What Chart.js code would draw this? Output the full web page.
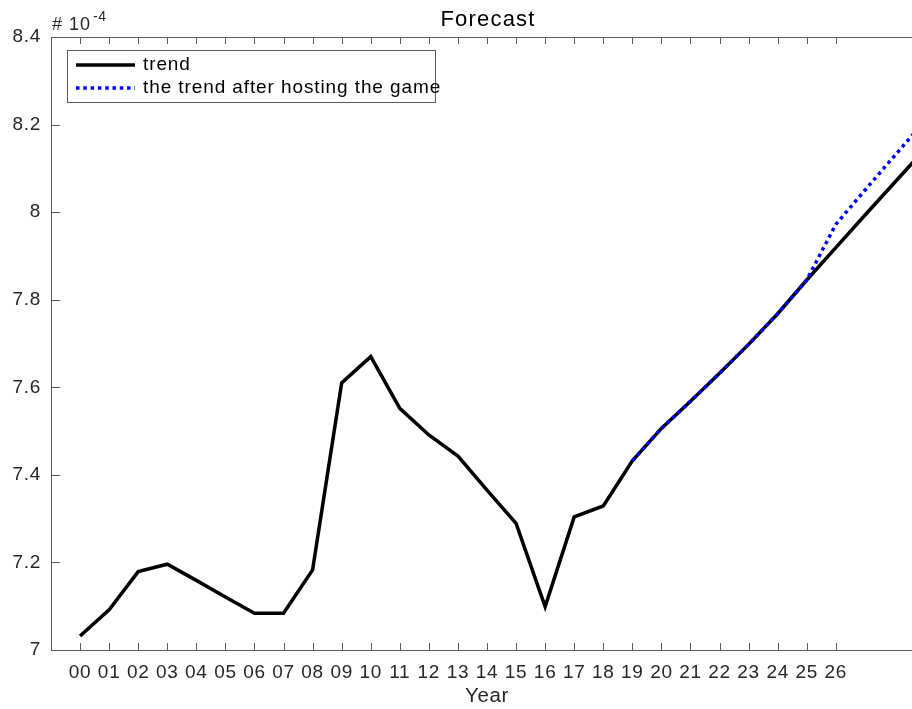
<!DOCTYPE html>
<html>
<head>
<meta charset="utf-8">
<title>Forecast</title>
<script src="https://cdn.jsdelivr.net/npm/chart.js@4/dist/chart.umd.min.js"></script>
<style>
  html, body { margin: 0; padding: 0; background: #fff; overflow: hidden; }
  #wrap { width: 912px; height: 709px; overflow: hidden; }
</style>
</head>
<body>
<div id="wrap"><canvas id="myChart" width="923" height="709"></canvas></div>
<script>
// years 2000..2029 as index
const years = [0, 1, 2, 3, 4, 5, 6, 7, 8, 9, 10, 11, 12, 13, 14, 15, 16, 17, 18, 19,
  20, 21, 22, 23, 24, 25, 26, 27, 28, 29];
// values in units of 1e-4
const trend = [7.032, 7.092, 7.179, 7.196, 7.159, 7.121, 7.084, 7.084, 7.183, 7.610,
  7.670, 7.552, 7.491, 7.443, 7.365, 7.289, 7.099, 7.304, 7.329, 7.432,
  7.506, 7.568, 7.632, 7.698, 7.768, 7.845, 7.919, 7.993, 8.066, 8.139];
const hosting = [null, null, null, null, null, null, null, null, null, null,
  null, null, null, null, null, null, null, null, null, 7.432,
  7.506, 7.568, 7.632, 7.698, 7.768, 7.845, 7.972, 8.050, 8.127, 8.204];
const lastTick = 26;
const yTicks = [7, 7.2, 7.4, 7.6, 7.8, 8, 8.2, 8.4];

const FONT = 'Arial, "Liberation Sans", sans-serif';
const AXIS = '#5a5a5a';
const TEXT = '#262626';

const toPoints = arr => years.map((x, i) => ({ x: x, y: arr[i] })).filter(p => p.y !== null);

// slightly wider letter spacing for all axis text
const spacing = {
  id: 'spacing',
  beforeInit(chart) { chart.ctx.letterSpacing = '0.7px'; },
  beforeDraw(chart) { chart.ctx.letterSpacing = '0.7px'; }
};

// matlab style inward ticks + top box edge
const boxTicks = {
  id: 'boxTicks',
  afterDraw(chart) {
    const { ctx, chartArea: { left, right, top, bottom }, scales: { x, y } } = chart;
    ctx.save();
    ctx.strokeStyle = AXIS;
    ctx.lineWidth = 1;
    ctx.beginPath();
    ctx.moveTo(left, top + 0.5);
    ctx.lineTo(right, top + 0.5);
    for (let i = 0; i <= lastTick; i++) {
      const px = Math.round(x.getPixelForValue(i)) + 0.5;
      ctx.moveTo(px, bottom);
      ctx.lineTo(px, bottom - 7);
      ctx.moveTo(px, top);
      ctx.lineTo(px, top + 7);
    }
    yTicks.forEach(v => {
      const py = Math.round(y.getPixelForValue(v)) + 0.5;
      ctx.moveTo(left, py);
      ctx.lineTo(left + 9, py);
    });
    ctx.stroke();
    ctx.restore();
  }
};

// title, exponent and legend box
const labels = {
  id: 'labels',
  afterDraw(chart) {
    const { ctx, chartArea: { left, right } } = chart;
    ctx.save();
    ctx.fillStyle = '#000';
    ctx.textBaseline = 'middle';
    ctx.textAlign = 'center';
    ctx.letterSpacing = '1.2px';
    ctx.font = '22px ' + FONT;
    ctx.fillText('Forecast', (left + right) / 2 + 1, 20);

    ctx.textAlign = 'left';
    ctx.fillStyle = TEXT;
    ctx.letterSpacing = '1px';
    ctx.font = '18px ' + FONT;
    ctx.fillText('# 10', 52, 25);
    ctx.letterSpacing = '0.5px';
    ctx.font = '14px ' + FONT;
    ctx.fillText('-4', 93, 17);

    // legend
    ctx.fillStyle = '#fff';
    ctx.fillRect(67, 50, 368, 52);
    ctx.strokeStyle = AXIS;
    ctx.lineWidth = 1;
    ctx.strokeRect(67.5, 50.5, 368, 52);

    ctx.lineWidth = 3.5;
    ctx.strokeStyle = '#000';
    ctx.beginPath();
    ctx.moveTo(76, 65);
    ctx.lineTo(135, 65);
    ctx.stroke();

    ctx.strokeStyle = '#0000ff';
    ctx.setLineDash([3.5, 3.8]);
    ctx.beginPath();
    ctx.moveTo(76, 88);
    ctx.lineTo(135, 88);
    ctx.stroke();
    ctx.setLineDash([]);

    ctx.fillStyle = '#000';
    ctx.letterSpacing = '0.9px';
    ctx.font = '19px ' + FONT;
    ctx.fillText('trend', 143, 65);
    ctx.fillText('the trend after hosting the game', 143, 88);
    ctx.restore();
  }
};

const data = {
  datasets: [
    {
      label: 'the trend after hosting the game',
      data: toPoints(hosting),
      borderColor: '#0000ff',
      borderWidth: 3.5,
      borderDash: [3.5, 3.8],
      pointRadius: 0,
      tension: 0,
      order: 0
    },
    {
      label: 'trend',
      data: toPoints(trend),
      borderColor: '#000000',
      borderWidth: 3.5,
      pointRadius: 0,
      tension: 0,
      order: 1
    }
  ]
};

const config = {
  type: 'line',
  data,
  options: {
    responsive: false,
    animation: false,
    layout: { padding: { top: 37, right: 0, left: 0, bottom: 0 } },
    plugins: {
      legend: { display: false },
      tooltip: { enabled: false }
    },
    scales: {
      x: {
        type: 'linear',
        min: -1,
        max: 29,
        afterFit(scale) { scale.height = 59; },
        afterBuildTicks(scale) {
          scale.ticks = years.filter(v => v <= lastTick).map(v => ({ value: v }));
        },
        grid: { display: false, drawTicks: false },
        border: { display: true, color: AXIS, width: 1 },
        ticks: {
          autoSkip: false,
          maxRotation: 0,
          padding: 11,
          color: TEXT,
          font: { family: FONT, size: 19 },
          callback: v => String(v).padStart(2, '0')
        },
        title: {
          display: true,
          text: 'Year',
          color: TEXT,
          font: { family: FONT, size: 20.5 },
          padding: 0
        }
      },
      y: {
        min: 7,
        max: 8.4,
        afterFit(scale) { scale.width = 51; },
        afterBuildTicks(scale) {
          scale.ticks = yTicks.map(v => ({ value: v }));
        },
        grid: { display: false, drawTicks: false },
        border: { display: true, color: AXIS, width: 1 },
        ticks: {
          padding: 10,
          color: TEXT,
          font: { family: FONT, size: 19 },
          callback: v => String(+v.toFixed(1))
        }
      }
    }
  },
  plugins: [spacing, boxTicks, labels]
};

const myChart = new Chart(document.getElementById('myChart'), config);
</script>
</body>
</html>
